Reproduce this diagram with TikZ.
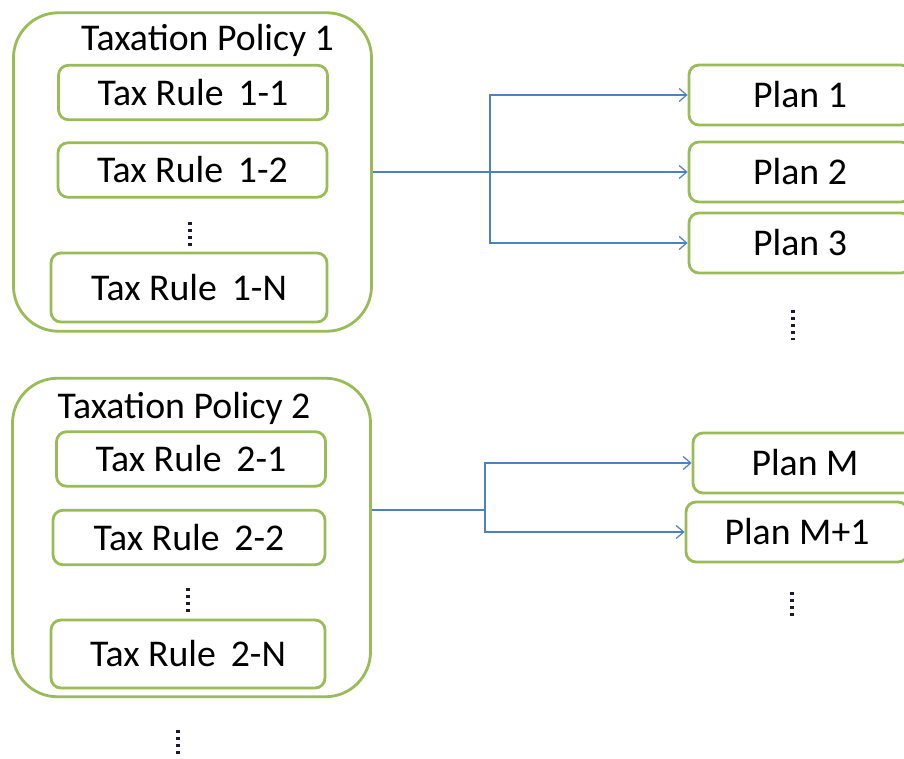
\documentclass[tikz,border=0pt]{standalone}
\usepackage{fontspec}
\setmainfont{Carlito}
\usepackage{xcolor}
\usetikzlibrary{positioning}
\usetikzlibrary{arrows.meta}
\usetikzlibrary{calc}
\usetikzlibrary{math}

\definecolor{boxgreen}{HTML}{9BBB59}
\definecolor{linkblue}{HTML}{4F81BD}
\definecolor{dotcol}{HTML}{1A1A33}

\begin{document}
\begin{tikzpicture}[
    font=\fontsize{21.5}{25}\selectfont,
    policy/.style={draw=boxgreen, line width=1.6pt, rounded corners=0.9cm,
                   minimum width=7.16cm, minimum height=6.37cm, inner sep=0pt},
    rule/.style={draw=boxgreen, line width=1.6pt, rounded corners=0.2cm,
                 minimum width=5.38cm, minimum height=1.09cm, inner sep=0pt},
    plan/.style={draw=boxgreen, line width=1.6pt, rounded corners=0.2cm,
                 minimum width=4.44cm, minimum height=1.20cm, inner sep=0pt},
    link/.style={draw=linkblue, line width=0.7pt,
                 -{Straight Barb[length=1.5mm,width=2.6mm]}},
    moredots/.style={draw=dotcol, line width=2.4pt,
                     dash pattern=on 1.8pt off 2.2pt}
  ]

  \tikzmath{
    \jx   = 9.80;  % x of first branching point
    \jxx  = 9.70;  % x of second branching point
    \jyy  = -10.20; % y of second link line
  }

  \clip (0,0) rectangle (18.08,-15.16);
  \useasboundingbox (0,0) rectangle (18.08,-15.16);

  % first policy with its rules
  \node[policy] (pol1) at (3.85,-3.44) {};
  \node (pol1t) at (4.15,-0.80) {Taxation Policy 1};
  \node[rule] (r11) at (3.86,-1.85) {Tax Rule\, 1-1};
  \node[rule] (r12) at (3.85,-3.40) {Tax Rule\, 1-2};
  \node[rule, minimum width=5.52cm, minimum height=1.38cm] (r1n) at (3.78,-5.75) {Tax Rule\, 1-N};
  \draw[moredots] (3.80,-4.44) -- (3.80,-5.00);

  % second policy with its rules
  \node[policy] (pol2) at (3.83,-10.75) {};
  \node (pol2t) at (3.68,-8.16) {Taxation Policy 2};
  \node[rule] (r21) at (3.82,-9.18) {Tax Rule\, 2-1};
  \node[rule, minimum width=5.44cm] (r22) at (3.78,-10.75) {Tax Rule\, 2-2};
  \node[rule, minimum width=5.48cm, minimum height=1.36cm] (r2n) at (3.76,-13.08) {Tax Rule\, 2-N};
  \draw[moredots] (3.76,-11.76) -- (3.76,-12.32);

  % more policies
  \draw[moredots] (3.56,-14.60) -- (3.56,-15.16);

  % plans
  \node[plan] (p1) at (16.00,-1.90) {Plan 1};
  \node[plan] (p2) at (16.00,-3.44) {Plan 2};
  \node[plan] (p3) at (16.00,-4.86) {Plan 3};
  \draw[moredots] (15.86,-6.20) -- (15.86,-6.80);

  \node[plan, minimum width=4.48cm] (pm)  at (16.10,-9.26)  {Plan M};
  \node[plan] (pm1) at (15.94,-10.64) {Plan M+1};
  \draw[moredots] (15.84,-11.84) -- (15.84,-12.40);

  % links from policy 1
  \coordinate (j1) at (\jx,-3.44);
  \draw[link] (pol1.east) -- (p2.west);
  \draw[link] (j1) |- (p1.west);
  \draw[link] (j1) |- (p3.west);

  % links from policy 2
  \coordinate (j2) at (\jxx,\jyy);
  \draw[draw=linkblue, line width=0.7pt] (pol2.east |- j2) -- (j2);
  \draw[link] (j2) |- (pm.west);
  \draw[link] (j2) |- (pm1.west);

\end{tikzpicture}
\end{document}
